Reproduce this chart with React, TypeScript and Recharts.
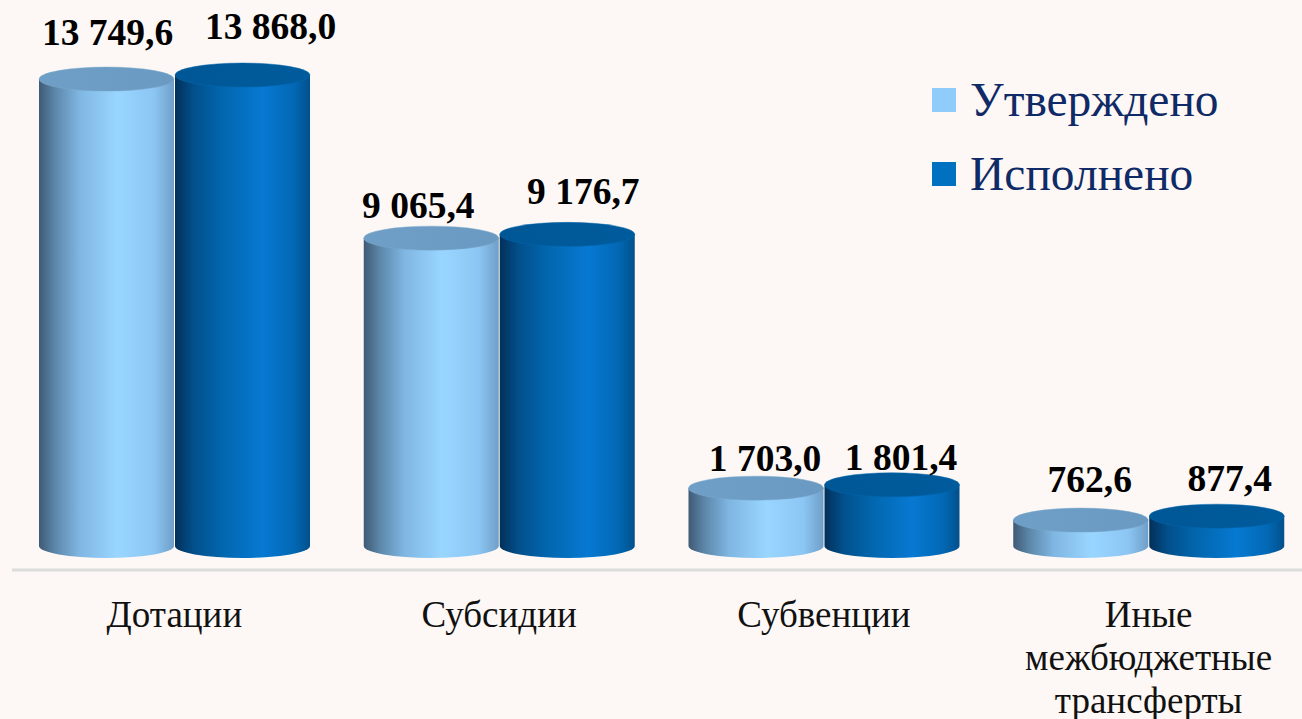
import { BarChart, Bar, XAxis, YAxis, Legend, LabelList } from 'recharts';

const categories = ['Дотации', 'Субсидии', 'Субвенции', 'Иные межбюджетные трансферты'];
const approved = [13749.6, 9065.4, 1703.0, 762.6];
const executed = [13868.0, 9176.7, 1801.4, 877.4];

const categoryLines: Record<string, string[]> = {
  'Иные межбюджетные трансферты': ['Иные', 'межбюджетные', 'трансферты'],
};

// nudges of the value labels, they do not sit exactly over the bars
const approvedNudgeX = [1, -13, 9, 9];
const executedNudgeX = [28, 16, 9, 13];
const approvedNudgeY = [2, 16, 19, 8];
const executedNudgeY = [0, 6, 21, 11];

const data = categories.map((name, i) => ({
  name,
  approved: approved[i],
  executed: executed[i],
}));

const FONT = '"Liberation Serif", serif';
const RY = 12;

const formatValue = (v: number) => {
  const [whole, frac] = v.toFixed(1).split('.');
  return `${whole.replace(/\B(?=(\d{3})+$)/g, ' ')},${frac}`;
};

const Cylinder = ({ x, y, width, height, grad, top, edge }: any) => {
  const rx = width / 2;
  const cx = x + rx;
  const bottom = y + height;
  const d = `M${x},${y} L${x},${bottom} A${rx},${RY} 0 0 0 ${x + width},${bottom} L${x + width},${y} Z`;
  return (
    <g>
      <path d={d} fill={`url(#${grad})`} />
      <ellipse cx={cx} cy={y} rx={rx} ry={RY} fill={`url(#${top})`} stroke={edge} strokeWidth={0.5} />
    </g>
  );
};

const CategoryTick = ({ x, y, payload }: any) => {
  const lines = categoryLines[payload.value] ?? [payload.value];
  return (
    <text x={x} y={y} textAnchor="middle" fontFamily={FONT} fontSize={37} fill="#111">
      {lines.map((line: string, i: number) => (
        <tspan key={line} x={x} y={y + 49 + i * 43}>
          {line}
        </tspan>
      ))}
    </text>
  );
};

const makeLabel = (nudgeX: number[], nudgeY: number[]) => (props: any) => {
  const { x, y, width, value, index } = props;
  return (
    <text
      x={x + width / 2 + nudgeX[index]}
      y={y - 36 + nudgeY[index]}
      textAnchor="middle"
      fontFamily={FONT}
      fontSize={37.5}
      fontWeight="bold"
      fill="#000"
    >
      {formatValue(value)}
    </text>
  );
};

const LegendBox = () => (
  <div style={{ fontFamily: FONT, fontSize: 47.5, color: '#0f2a66', lineHeight: '74px' }}>
    {[
      { label: 'Утверждено', color: '#8fcbfb' },
      { label: 'Исполнено', color: '#0070c0' },
    ].map((item) => (
      <div key={item.label} style={{ display: 'flex', alignItems: 'center', height: 74 }}>
        <span style={{ width: 24, height: 24, background: item.color, marginRight: 14, display: 'inline-block' }} />
        {item.label}
      </div>
    ))}
  </div>
);

export default function App() {
  return (
    <div
      style={{
        position: 'absolute',
        left: 0,
        top: 0,
        width: 1302,
        height: 719,
        overflow: 'hidden',
        background: '#fdf8f5',
      }}
    >
      <BarChart
        width={1311}
        height={719}
        data={data}
        barGap={1}
        barSize={135}
        margin={{ top: 0, right: 0, left: 12, bottom: 0 }}
      >
        <defs>
          <linearGradient id="lightSide" x1="0" y1="0" x2="1" y2="0">
            <stop offset="0" stopColor="#3f5a75" />
            <stop offset="0.12" stopColor="#5d87aa" />
            <stop offset="0.3" stopColor="#7fb6e2" />
            <stop offset="0.58" stopColor="#99d6ff" />
            <stop offset="0.85" stopColor="#8cc6f4" />
            <stop offset="1" stopColor="#6f9fc8" />
          </linearGradient>
          <linearGradient id="darkSide" x1="0" y1="0" x2="1" y2="0">
            <stop offset="0" stopColor="#02305a" />
            <stop offset="0.14" stopColor="#02508c" />
            <stop offset="0.35" stopColor="#0266ae" />
            <stop offset="0.65" stopColor="#0779d2" />
            <stop offset="0.88" stopColor="#0268b4" />
            <stop offset="1" stopColor="#02508c" />
          </linearGradient>
          <linearGradient id="lightTop" x1="0" y1="0" x2="1" y2="0">
            <stop offset="0" stopColor="#6f9fc6" />
            <stop offset="1" stopColor="#6a9ac2" />
          </linearGradient>
          <linearGradient id="darkTop" x1="0" y1="0" x2="1" y2="0">
            <stop offset="0" stopColor="#005796" />
            <stop offset="1" stopColor="#005b9c" />
          </linearGradient>
        </defs>
        <XAxis
          dataKey="name"
          interval={0}
          tickLine={false}
          axisLine={{ stroke: '#dcdcda', strokeWidth: 3 }}
          tick={<CategoryTick />}
          height={149}
        />
        <YAxis hide domain={[-707, 16078]} />
        <Legend
          layout="vertical"
          align="center"
          verticalAlign="middle"
          content={<LegendBox />}
          wrapperStyle={{ position: 'absolute', left: 932, top: 63, width: 330, bottom: 'auto' }}
        />
        <Bar
          dataKey="approved"
          isAnimationActive={false}
          shape={(p: any) => <Cylinder {...p} grad="lightSide" top="lightTop" edge="#7aa8cd" />}
        >
          <LabelList dataKey="approved" content={makeLabel(approvedNudgeX, approvedNudgeY)} />
        </Bar>
        <Bar
          dataKey="executed"
          isAnimationActive={false}
          shape={(p: any) => <Cylinder {...p} grad="darkSide" top="darkTop" edge="#0566ad" />}
        >
          <LabelList dataKey="executed" content={makeLabel(executedNudgeX, executedNudgeY)} />
        </Bar>
      </BarChart>
    </div>
  );
}
